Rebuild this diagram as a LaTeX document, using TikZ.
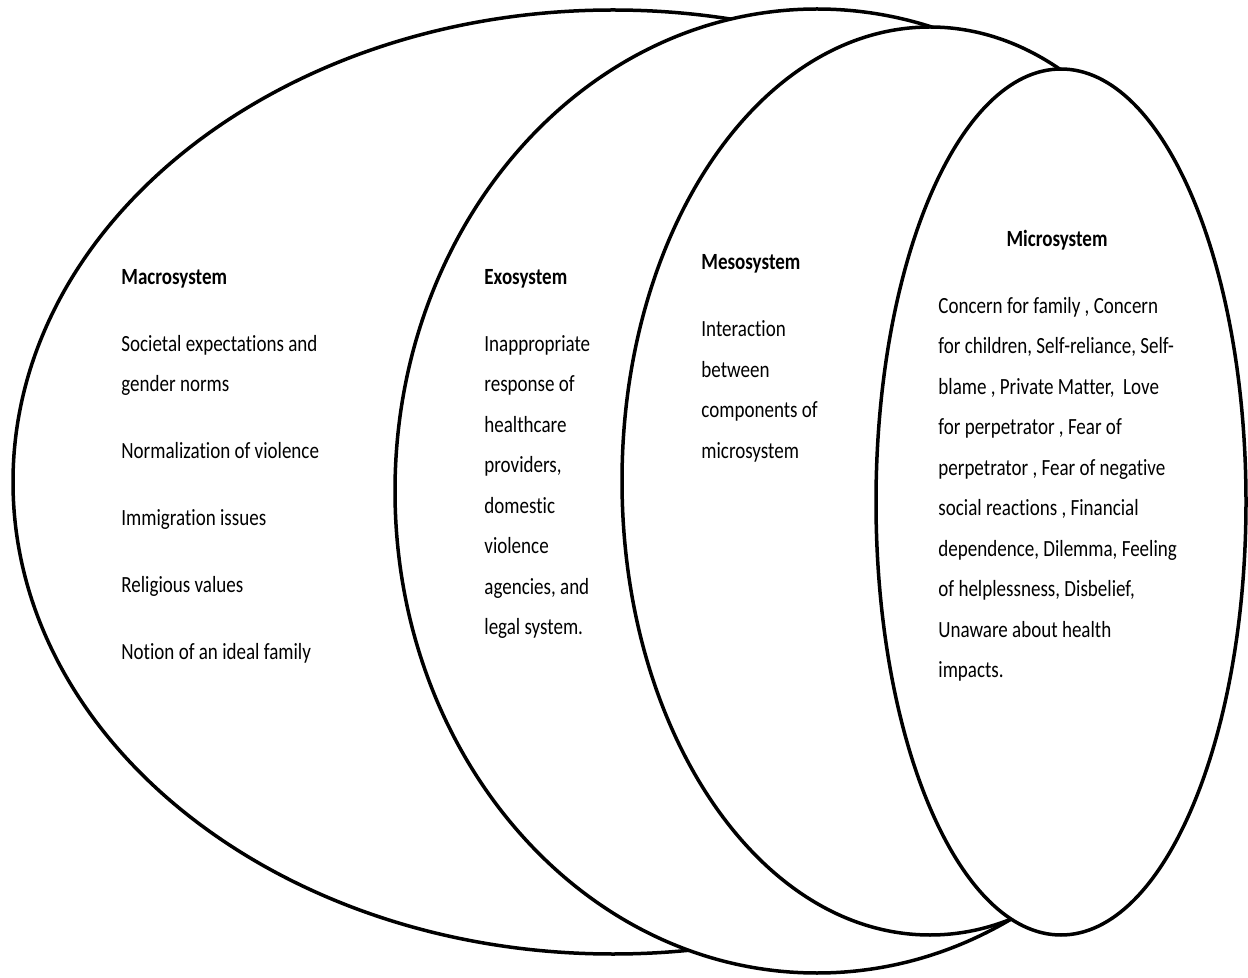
\documentclass[tikz,border=0pt]{standalone}
\usepackage{fontspec}
\setmainfont{Carlito}[FakeStretch=0.82, Ligatures=NoCommon]
\tikzset{
  sys/.style={draw=black, fill=white, line width=1.75pt},
  lbl/.style={anchor=base west, inner sep=0pt, align=left, font=\fontsize{11.6pt}{20.25pt}\selectfont, text=black},
  ttl/.style={anchor=base, inner sep=0pt, font=\fontsize{11.6pt}{20.25pt}\selectfont\bfseries, text=black}
}
\newcommand{\gap}{\\[13.25pt]}
\begin{document}
\begin{tikzpicture}[x=0.5pt, y=-0.5pt]
\useasboundingbox (0,0) rectangle (1248,978);
% ellipses, outermost first
\draw[sys] (613,482) ellipse [x radius=600, y radius=472];
\draw[sys] (817,491) ellipse [x radius=422, y radius=482];
\draw[sys] (930,481) ellipse [x radius=308, y radius=454];
\draw[sys] (1061,502) ellipse [x radius=185, y radius=433];
% texts (anchored at the baseline of their last line)
\node[lbl] (macrotxt) at (121,659.5) {\textbf{Macrosystem}\gap
Societal expectations and\\ gender norms\gap
Normalization of violence\gap
Immigration issues\gap
Religious values\gap
Notion of an ideal family};
\node[lbl] (exotxt) at (484,634.5) {\textbf{Exosystem}\gap
Inappropriate\\ response of\\ healthcare\\ providers,\\ domestic\\ violence\\ agencies, and\\ legal system.};
\node[lbl] (mesotxt) at (701,458.5) {\textbf{Mesosystem}\gap
Interaction\\ between\\ components of\\ microsystem};
\node[ttl] (microttl) at (1057,247) {Microsystem};
\node[lbl] (microtxt) at (938,677.5) {Concern for family , Concern\\
for children, Self-reliance, Self-\\
blame , Private Matter,\ \ Love\\
for perpetrator , Fear of\\
perpetrator , Fear of negative\\
social reactions , Financial\\
dependence, Dilemma, Feeling\\
of helplessness, Disbelief,\\
Unaware about health\\
impacts.};
\end{tikzpicture}
\end{document}
